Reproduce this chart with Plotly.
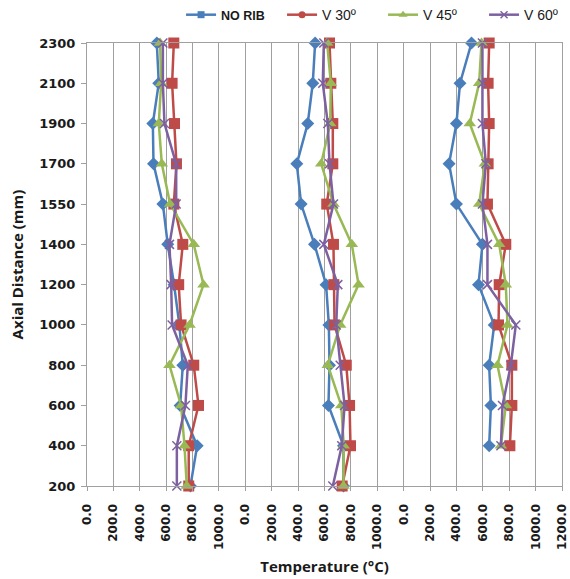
import plotly.graph_objects as go

# ---- data ----
axial = ["200", "400", "600", "800", "1000", "1200", "1400", "1550", "1700", "1900", "2100", "2300"]
series_names = ['<b><span style="font-size:12.5px">NO RIB</span></b>', "V 30º", "V 45º", "V 60º"]

# Panel 1
p1_norib = [784, 835, 706, 726, 700, 660, 612, 575, 504, 499, 544, 529]
p1_v30 = [771, 771, 845, 809, 713, 695, 726, 658, 678, 663, 645, 658]
p1_v45 = [756, 739, 713, 625, 777, 883, 809, 630, 567, 544, 562, 554]
p1_v60 = [681, 681, 746, 764, 645, 638, 625, 676, 676, 587, 575, 575]

# Panel 2
p2_norib = [744, 744, 630, 638, 633, 612, 524, 423, 390, 473, 511, 529]
p2_v30 = [734, 797, 790, 765, 676, 671, 668, 617, 663, 663, 648, 638]
p2_v45 = [744, 746, 727, 625, 719, 858, 807, 668, 575, 643, 648, 620]
p2_v60 = [663, 731, 752, 719, 689, 701, 595, 668, 638, 625, 587, 595]

# Panel 3 (no value at 200)
p3_norib = [None, 648, 661, 648, 686, 567, 597, 400, 344, 400, 427, 514]
p3_v30 = [None, 805, 820, 820, 719, 724, 774, 635, 640, 648, 640, 648]
p3_v45 = [None, 737, 774, 711, 787, 774, 724, 572, 615, 501, 572, 590]
p3_v60 = [None, 737, 749, 812, 850, 635, 635, 597, 623, 597, 597, 597]

panels = [
    [p1_norib, p1_v30, p1_v45, p1_v60],
    [p2_norib, p2_v30, p2_v45, p2_v60],
    [p3_norib, p3_v30, p3_v45, p3_v60],
]
panel_span = 1200  # each panel occupies 0..1200 °C on the shared axis
tick_step = 200

# ---- styles ----
colors = ["#4A7EBB", "#BE4B48", "#98B954", "#7D60A0"]
plot_symbols = ["diamond", "square", "triangle-up", "x-thin"]
plot_sizes = [10, 11, 11, 9]
legend_symbols = ["square", "circle", "triangle-up", "x-thin"]
legend_sizes = [7, 7, 8, 7]
tick_font = dict(family="DejaVu Sans, sans-serif", weight="bold", color="#1a1a1a")
title_font = dict(family="Open Sans, sans-serif", weight="bold", size=15, color="#1a1a1a")

fig = go.Figure()

for p, pdata in enumerate(panels):
    offset = p * panel_span
    for s, vals in enumerate(pdata):
        xs = [None if v is None else v + offset for v in vals]
        sym = plot_symbols[s]
        marker = dict(symbol=sym, size=plot_sizes[s], color=colors[s],
                      line=dict(color=colors[s], width=1.5 if sym == "x-thin" else 0))
        fig.add_trace(go.Scatter(
            x=xs, y=axial, mode="lines+markers",
            line=dict(color=colors[s], width=2.5),
            marker=marker, showlegend=False, cliponaxis=False,
            connectgaps=False, hoverinfo="x+y",
        ))

# legend-only entries (legend markers differ from plotted markers in the reference)
for s, name in enumerate(series_names):
    sym = legend_symbols[s]
    fig.add_trace(go.Scatter(
        x=[None], y=[None], mode="lines+markers", name=name,
        line=dict(color=colors[s], width=2.5),
        marker=dict(symbol=sym, size=legend_sizes[s], color=colors[s],
                    line=dict(color=colors[s], width=1.5 if sym == "x-thin" else 0)),
    ))

x_max = 3 * panel_span
tickvals = list(range(0, x_max + 1, tick_step))
ticktext = []
for v in tickvals:
    if v == x_max:
        ticktext.append(f"{float(panel_span):.1f}")
    else:
        ticktext.append(f"{float(v % panel_span):.1f}")

fig.update_layout(
    width=570, height=579,
    margin=dict(l=87, r=8, t=43, b=93, autoexpand=False),
    paper_bgcolor="white", plot_bgcolor="white",
    font=dict(family="Liberation Sans, sans-serif", color="#1a1a1a"),
    legend=dict(
        orientation="h", x=0.198, xanchor="left", y=1.063, yanchor="middle",
        font=dict(family="Liberation Sans, Arial, sans-serif", size=14, color="#1a1a1a"),
        itemwidth=30, entrywidth=56, entrywidthmode="pixels",
        bgcolor="rgba(0,0,0,0)",
    ),
    xaxis=dict(
        range=[0, x_max], tickvals=tickvals, ticktext=ticktext,
        tickangle=-90, tickfont=dict(size=12, **tick_font),
        showgrid=True, gridcolor="#A0A0A0", gridwidth=1,
        showline=True, linecolor="#A0A0A0", linewidth=1, mirror=True,
        ticks="outside", ticklen=4, tickcolor="#A0A0A0", ticklabelstandoff=8,
        ticklabeloverflow="allow",
        zeroline=False, automargin=False,
        title=dict(text="Temperature (°C)", font=title_font, standoff=12),
    ),
    yaxis=dict(
        type="category", categoryorder="array", categoryarray=axial,
        range=[0, len(axial) - 1],
        tickfont=dict(size=13, **tick_font),
        showgrid=False,
        showline=True, linecolor="#A0A0A0", linewidth=1, mirror=True,
        ticks="outside", ticklen=5, tickcolor="#A0A0A0", ticklabelstandoff=3,
        automargin=False,
        title=dict(text="Axial Distance (mm)", font=title_font, standoff=11),
    ),
)

fig.write_html(
    "out.html",
    config={"displayModeBar": False},
    post_script="document.body.style.margin='0'; document.body.style.overflow='hidden';",
)
